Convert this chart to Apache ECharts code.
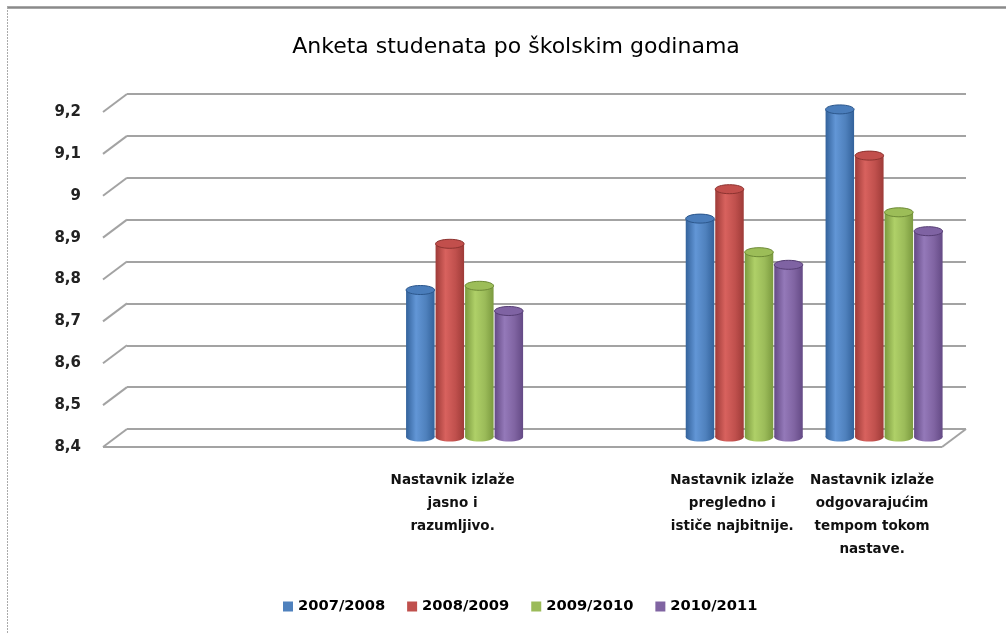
<!DOCTYPE html>
<html>
<head>
<meta charset="utf-8">
<script src="https://cdn.jsdelivr.net/npm/echarts@6/dist/echarts.min.js"></script>
<style>html,body{margin:0;padding:0;background:#fff}#c{width:1006px;height:634px}</style>
</head>
<body>
<div id="c"></div>
<script>
// ---- data ----
const titleText = 'Anketa studenata po školskim godinama';
const categories = ['', '', 'Nastavnik izlaže\njasno i\nrazumljivo.', '', 'Nastavnik izlaže\npregledno i\nističe najbitnije.', 'Nastavnik izlaže\nodgovarajućim\ntempom tokom\nnastave.'];
const seriesNames = ['2007/2008', '2008/2009', '2009/2010', '2010/2011'];
const s2007 = [null, null, 8.75, null, 8.92, 9.18];
const s2008 = [null, null, 8.86, null, 8.99, 9.07];
const s2009 = [null, null, 8.76, null, 8.84, 8.935];
const s2010 = [null, null, 8.70, null, 8.81, 8.89];
const yTicks = [8.4, 8.5, 8.6, 8.7, 8.8, 8.9, 9.0, 9.1, 9.2];
const yMin = 8.4, yMax = 9.2, yStep = 0.1;

// ---- styles ----
const palettes = [
  {base: '#4F81BD', dark: '#33629b', light: '#6296d6', top: '#4a7dbb', rim: '#2c578c'},
  {base: '#C0504D', dark: '#9e3b38', light: '#d8625e', top: '#c24f4c', rim: '#8c3330'},
  {base: '#9BBB59', dark: '#7b9a3f', light: '#afd068', top: '#9cbd58', rim: '#6d8a36'},
  {base: '#8064A2', dark: '#644a85', light: '#9479b9', top: '#7f63a3', rim: '#563e74'}
];
const gridColor = '#a3a3a3';
const DX = -24, DY = 18;
const font = 'DejaVu Sans';

function cylRender(idx) {
  const p = palettes[idx];
  return function (params, api) {
    const ci = api.value(0), v = api.value(1);
    if (v == null || isNaN(v)) return;
    const top = api.coord([ci, v]);
    const base = api.coord([ci, yMin]);
    const band = api.size([1, 0])[0];
    const bw = band * 0.211;
    const cx = top[0] + (idx - 1.5) * bw;
    const x0 = cx - bw / 2 + 0.5;
    const w = bw - 1;
    const ry = 4.5;
    const grad = new echarts.graphic.LinearGradient(0, 0, 1, 0, [
      {offset: 0, color: p.dark},
      {offset: 0.35, color: p.light},
      {offset: 0.7, color: p.base},
      {offset: 1, color: p.dark}
    ]);
    return {
      type: 'group',
      children: [
        {type: 'ellipse', shape: {cx: cx, cy: base[1], rx: w / 2, ry: ry}, style: {fill: grad}},
        {type: 'rect', shape: {x: x0, y: top[1], width: w, height: base[1] - top[1]}, style: {fill: grad}},
        {type: 'ellipse', shape: {cx: cx, cy: top[1], rx: w / 2, ry: ry}, style: {fill: p.top, stroke: p.rim, lineWidth: 1}}
      ]
    };
  };
}

function wallRender(params, api) {
  const v = api.value(1);
  const b = api.coord([0, v]);
  const children = [
    {type: 'line', shape: {x1: b[0], y1: b[1], x2: b[0] + DX, y2: b[1] + DY}, style: {stroke: gridColor, lineWidth: 2}}
  ];
  if (Math.abs(v - yMin) < 1e-9) {
    const br = api.coord([1, v]);
    children.push({type: 'line', shape: {x1: b[0] + DX, y1: b[1] + DY, x2: br[0] + DX, y2: br[1] + DY}, style: {stroke: gridColor, lineWidth: 2}});
    children.push({type: 'line', shape: {x1: br[0], y1: br[1], x2: br[0] + DX, y2: br[1] + DY}, style: {stroke: gridColor, lineWidth: 2}});
  }
  return {type: 'group', children: children};
}

const allSeries = [s2007, s2008, s2009, s2010];
const chart = echarts.init(document.getElementById('c'), null, {renderer: 'canvas'});

const series = [{
  type: 'custom', name: 'wall', xAxisIndex: 0, yAxisIndex: 0, z: 1, silent: true,
  renderItem: wallRender, data: yTicks.map(t => [0, t]), clip: false
}];
allSeries.forEach((arr, i) => {
  series.push({
    type: 'custom', name: seriesNames[i], xAxisIndex: 2, yAxisIndex: 2, z: 5 + i,
    itemStyle: {color: palettes[i].base},
    renderItem: cylRender(i),
    data: arr.map((v, ci) => [ci, v]).filter(d => d[1] != null),
    clip: false
  });
});

chart.setOption({
  animation: false,
  backgroundColor: '#fff',
  title: {
    text: titleText, left: 511, top: 31, textAlign: 'center',
    textStyle: {fontFamily: font, fontSize: 22, fontWeight: 'normal', color: '#000'}
  },
  legend: {
    data: seriesNames, left: 283, top: 599, padding: 0, icon: 'rect', itemWidth: 10, itemHeight: 10, itemGap: 22,
    textStyle: {fontFamily: font, fontSize: 14.7, fontWeight: 'bold', color: '#000'}
  },
  graphic: [
    {type: 'line', shape: {x1: 7, y1: 7.5, x2: 1006, y2: 7.5}, style: {stroke: '#8a8a8a', lineWidth: 2.5}},
    {type: 'line', shape: {x1: 7.5, y1: 7, x2: 7.5, y2: 634}, style: {stroke: '#aaaaaa', lineWidth: 1, lineDash: [2, 1]}}
  ],
  grid: [
    {left: 127, right: 40, top: 94, bottom: 205},   // back wall
    {left: 103, right: 64, top: 112, bottom: 187},  // front plane
    {left: 115, right: 52, top: 101, bottom: 197}   // bar plane
  ],
  xAxis: [
    {gridIndex: 0, type: 'value', min: 0, max: 1, show: false},
    {gridIndex: 1, type: 'category', data: categories,
     axisLine: {show: false}, axisTick: {show: false},
     axisLabel: {interval: 0, margin: 22, fontFamily: font, fontSize: 13.5, fontWeight: 'bold', color: '#111', lineHeight: 23}},
    {gridIndex: 2, type: 'category', data: categories, show: false}
  ],
  yAxis: [
    {gridIndex: 0, type: 'value', min: yMin, max: yMax, interval: yStep,
     axisLine: {show: false}, axisTick: {show: false}, axisLabel: {show: false},
     splitLine: {show: true, lineStyle: {color: gridColor, width: 2}}},
    {gridIndex: 1, type: 'value', min: yMin, max: yMax, interval: yStep,
     axisLine: {show: false}, axisTick: {show: false}, splitLine: {show: false},
     axisLabel: {margin: 22, fontFamily: font, fontSize: 15, fontWeight: 'bold', color: '#222',
       formatter: v => String(+v.toFixed(1)).replace('.', ',')}},
    {gridIndex: 2, type: 'value', min: yMin, max: yMax, interval: yStep, show: false}
  ],
  series: series
});
</script>
</body>
</html>
